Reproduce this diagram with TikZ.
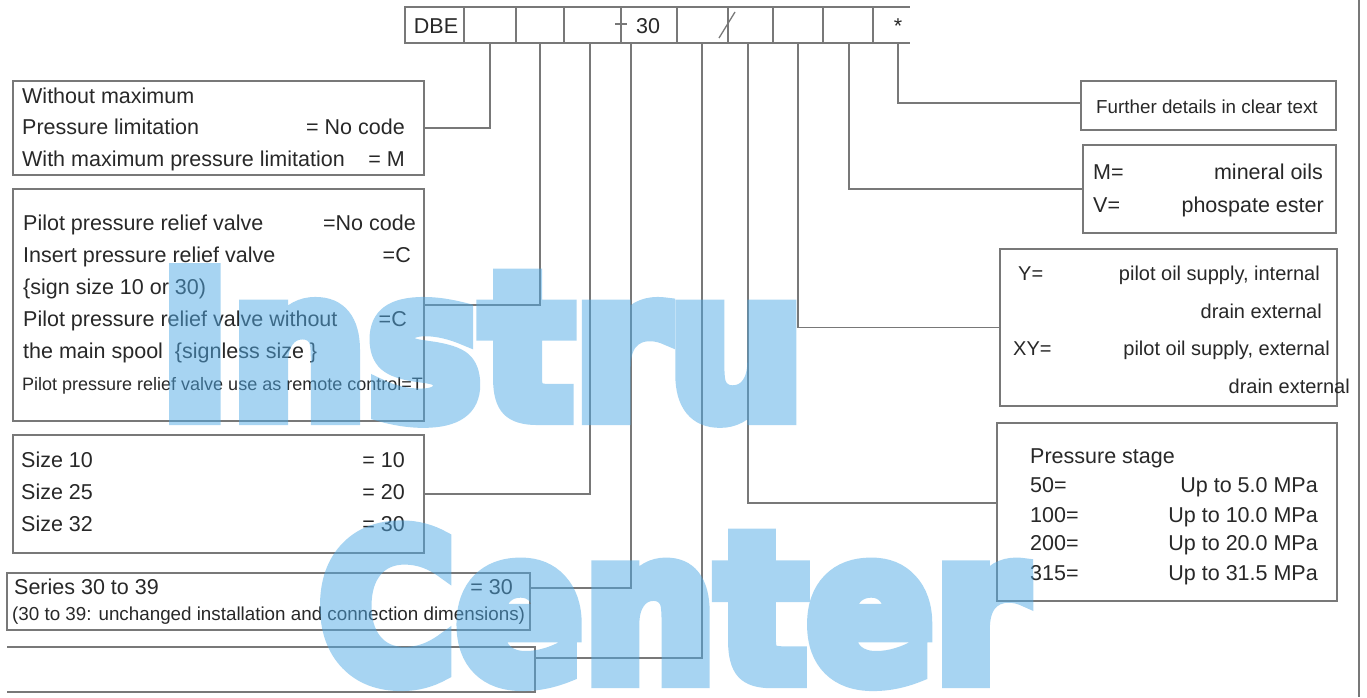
\documentclass[tikz,border=0pt]{standalone}
\usepackage{fontspec}
\setmainfont{Liberation Sans}
\newfontfamily\wmfont{DejaVu Sans}[BoldFeatures={FakeBold=8}]
\usetikzlibrary{shadows}
\definecolor{linegray}{RGB}{120,120,120}
\definecolor{wmblue}{RGB}{80,170,230}
\definecolor{txtc}{RGB}{40,40,40}
\tikzset{
  box/.style={draw=linegray, line width=1.3pt, fill=white, inner sep=0pt, outer sep=0pt,
    drop shadow={shadow xshift=1.3pt, shadow yshift=-1.3pt, fill=black!35, opacity=0.6}},
  cellbox/.style={draw=linegray, line width=1.3pt, inner sep=0pt, outer sep=0pt, minimum height=36pt},
  conn/.style={draw=linegray, line width=1.3pt},
  txl/.style={anchor=base west, inner sep=0pt, text=txtc, font=\fontsize{21.5}{25}\selectfont},
  txr/.style={anchor=base east, inner sep=0pt, text=txtc, font=\fontsize{21.5}{25}\selectfont},
  txc/.style={anchor=base, inner sep=0pt, text=txtc, font=\fontsize{21.5}{25}\selectfont},
  smallf/.style={font=\fontsize{18.8}{22}\selectfont},
  tinyf/.style={font=\fontsize{18}{22}\selectfont},
  midf/.style={font=\fontsize{20}{24}\selectfont},
  wm/.style={anchor=base west, inner sep=0pt, text=wmblue},
}
\begin{document}
\begin{tikzpicture}[x=1pt,y=-1pt]
\useasboundingbox (0,0) rectangle (1367,697);
\fill[white] (0,0) rectangle (1367,697);

% header cells
\node[cellbox, minimum width=59pt] (c1) at (434.5,25) {};
\node[cellbox, minimum width=52pt] (c2) at (490,25) {};
\node[cellbox, minimum width=48pt] (c3) at (540,25) {};
\node[cellbox, minimum width=57pt] (c4) at (592.5,25) {};
\node[cellbox, minimum width=56pt] (c5) at (649,25) {};
\node[cellbox, minimum width=51pt] (c6) at (702.5,25) {};
\node[cellbox, minimum width=45pt] (c7) at (750.5,25) {};
\node[cellbox, minimum width=50pt] (c8) at (798,25) {};
\node[cellbox, minimum width=50pt] (c9) at (848,25) {};
\node[cellbox, draw=none, minimum width=37pt] (c10) at (891.5,25) {};
\draw[conn] (c10.north west) -- (c10.north east) (c10.south west) -- (c10.south east);
\node[txc] (hDBE) at (436,33) {DBE};
\node[txc] (h30) at (648,33) {30};
\node[txc] (hstar) at (898,33) {*};
\draw[conn] (615,24) -- (627,24);
\draw[conn] (719,38) -- (735,12);

% tick coordinates under the header
\coordinate (t1) at (490,43);
\coordinate (t2) at (540,43);
\coordinate (t3) at (590,43);
\coordinate (t4) at (631,43);
\coordinate (t5) at (702,43);
\coordinate (t6) at (748,43);
\coordinate (t7) at (798,43);
\coordinate (t8) at (849,43);
\coordinate (t9) at (898,43);

% left boxes
\node[box, minimum width=411pt, minimum height=94pt] (b1) at (218.5,128) {};
\node[box, minimum width=411pt, minimum height=232pt] (b2) at (218.5,305) {};
\node[box, minimum width=411pt, minimum height=118pt] (b3) at (218.5,494) {};
\node[box, minimum width=523pt, minimum height=57pt] (b4) at (268.5,601.5) {};
\node[draw=none, inner sep=0pt, outer sep=0pt, minimum width=528pt, minimum height=45pt] (b5) at (271,669.5) {};
\draw[conn] (b5.north west) -- (b5.north east) -- (b5.south east) -- (b5.south west);

% right boxes
\node[box, minimum width=255pt, minimum height=49pt] (bF) at (1208.5,105.5) {};
\node[box, minimum width=253pt, minimum height=88pt] (bM) at (1209.5,189) {};
\node[box, minimum width=337pt, minimum height=157pt] (bY) at (1168.5,327.5) {};
\node[box, minimum width=340pt, minimum height=178pt] (bP) at (1167,512) {};

% long right line
\draw[conn] (1359,0) -- (1359,697);

% connectors
\draw[conn] (t1) |- (b1.east);
\draw[conn] (t2) |- (b2.east);
\draw[conn] (t3) |- (b3.east);
\draw[conn] (t4) |- ([yshift=13.5pt]b4.east);
\draw[conn] (t5) |- ([yshift=11.5pt]b5.east);
\draw[conn] (t6) |- ([yshift=9pt]bP.west);
\draw[conn] (t7) |- (bY.west);
\draw[conn] (t8) |- (bM.west);
\draw[conn] (t9) |- ([yshift=2.5pt]bF.west);

% box 1 text
\node[txl] (a1) at (22,103) {Without maximum};
\node[txl] (a2) at (22,134) {Pressure limitation};
\node[txr] (a3) at (405,134) {= No code};
\node[txl] (a4) at (22,166) {With maximum pressure limitation};
\node[txr] (a5) at (405,166) {= M};

% box 2 text
\node[txl] (p1) at (23,230) {Pilot pressure relief valve};
\node[txr] (p2) at (416,230) {=No code};
\node[txl] (p3) at (23,262) {Insert pressure relief valve};
\node[txr] (p4) at (411,262) {=C};
\node[txl] (p5) at (23,294) {\{sign size 10 or 30)};
\node[txl] (p6) at (23,326) {Pilot pressure relief valve without};
\node[txr] (p7) at (407,326) {=C};
\node[txl] (p8) at (23,358) {the main spool\ \ \{signless size \}};
\node[txl, tinyf] (p9) at (22,390) {Pilot pressure relief valve use as remote control=T};

% box 3 text
\node[txl] (s1) at (21,467) {Size 10};
\node[txr] (s2) at (405,467) {= 10};
\node[txl] (s3) at (21,499) {Size 25};
\node[txr] (s4) at (405,499) {= 20};
\node[txl] (s5) at (21,531) {Size 32};
\node[txr] (s6) at (405,531) {= 30};

% box 4 text
\node[txl] (r1) at (14,594) {Series 30 to 39};
\node[txr] (r2) at (513,594) {= 30};
\node[txl, smallf] (r3) at (12,620) {(30 to 39: unchanged installation and connection dimensions)};

% right box texts
\node[txl, smallf] (f1) at (1096,113) {Further details in clear text};
\node[txl] (m1) at (1093,179) {M=};
\node[txr] (m2) at (1323,179) {mineral oils};
\node[txl] (m3) at (1093,212) {V=};
\node[txr] (m4) at (1324,212) {phospate ester};

\node[txl, midf] (y1) at (1018,280) {Y=};
\node[txr, midf] (y2) at (1320,280) {pilot oil supply, internal};
\node[txr, midf] (y3) at (1322,318) {drain external};
\node[txl, midf] (y4) at (1013,355) {XY=};
\node[txr, midf] (y5) at (1330,355) {pilot oil supply, external};
\node[txr, midf] (y6) at (1350,393) {drain external};

\node[txl] (q0) at (1030,463) {Pressure stage};
\node[txl] (q1) at (1030,492) {50=};
\node[txr] (q2) at (1318,492) {Up to 5.0 MPa};
\node[txl] (q3) at (1030,522) {100=};
\node[txr] (q4) at (1318,522) {Up to 10.0 MPa};
\node[txl] (q5) at (1030,550) {200=};
\node[txr] (q6) at (1318,550) {Up to 20.0 MPa};
\node[txl] (q7) at (1030,580) {315=};
\node[txr] (q8) at (1318,580) {Up to 31.5 MPa};

% watermark
\begin{scope}[transparency group, opacity=0.5]
\node[wm, xscale=0.96, font=\wmfont\bfseries\fontsize{200}{200}\selectfont] (w1) at (159,417) {Instru};
\node[wm, xscale=0.92, font=\wmfont\bfseries\fontsize{204}{204}\selectfont] (w2) at (318,680) {Center};
\end{scope}
\end{tikzpicture}
\end{document}
